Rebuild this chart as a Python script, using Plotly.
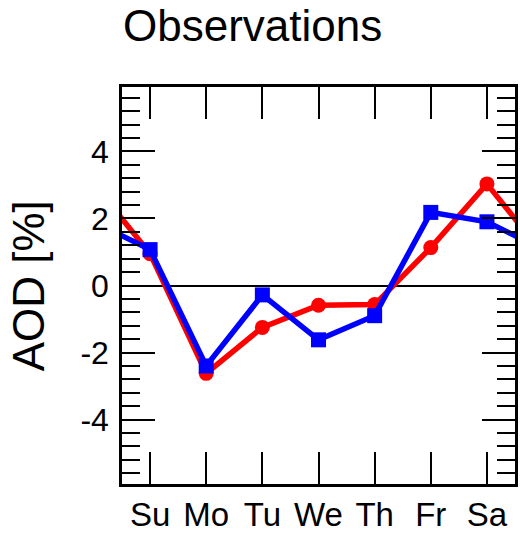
import plotly.graph_objects as go

days = ["Su", "Mo", "Tu", "We", "Th", "Fr", "Sa"]
obs_red = [0.95, -2.62, -1.25, -0.59, -0.57, 1.13, 3.03]
obs_blue = [1.07, -2.40, -0.28, -1.62, -0.90, 2.18, 1.90]
y_ticks = [-4, -2, 0, 2, 4]
y_tick_text = ["-4", "-2", "0", "2", "4"]

idx = list(range(len(days)))
# cyclic week: wrap Sa before Su and Su after Sa (clipped by axes)
x_ext = [-1] + idx + [len(days)]

def wrap(v):
    return [v[-1]] + list(v) + [v[0]]

FONT = "Liberation Sans, Arial, Helvetica, sans-serif"

fig = go.Figure()
fig.add_trace(go.Scatter(
    x=x_ext, y=wrap(obs_red), mode="lines+markers",
    line=dict(color="#ff0000", width=5.5),
    marker=dict(symbol="circle", size=15, color="#ff0000"),
    showlegend=False))
fig.add_trace(go.Scatter(
    x=x_ext, y=wrap(obs_blue), mode="lines+markers",
    line=dict(color="#0000ff", width=5.5),
    marker=dict(symbol="square", size=15, color="#0000ff"),
    showlegend=False))

fig.update_layout(
    width=520, height=536,
    margin=dict(l=122, r=2, t=87, b=52),
    paper_bgcolor="white", plot_bgcolor="white",
    font=dict(family=FONT, color="black"),
    xaxis=dict(
        range=[-0.5, 6.5], tickvals=idx, ticktext=days,
        ticks="inside", ticklen=32, tickwidth=2, tickcolor="black",
        showline=True, linewidth=2.5, linecolor="black", mirror="ticks",
        showgrid=False, zeroline=False,
        tickfont=dict(size=33, family=FONT), ticklabelstandoff=0,
    ),
    yaxis=dict(
        range=[-5.92, 5.92], tickvals=y_ticks, ticktext=y_tick_text,
        ticks="inside", ticklen=33, tickwidth=2, tickcolor="black",
        minor=dict(ticks="inside", ticklen=18, tickwidth=2, tickcolor="black",
                   dtick=0.4, tick0=0, showgrid=False),
        showline=True, linewidth=2.5, linecolor="black", mirror="ticks",
        showgrid=False, zeroline=True, zerolinecolor="black", zerolinewidth=1.5,
        tickfont=dict(size=32, family=FONT), ticklabelstandoff=4,
    ),
    annotations=[
        dict(text="Observations", xref="paper", yref="paper",
             x=0.0, y=484 / 397, xanchor="left", yanchor="top",
             borderpad=0, showarrow=False, font=dict(size=44, family=FONT)),
        dict(text="AOD [%]", xref="paper", yref="paper",
             x=-0.237, y=0.5, xanchor="center", yanchor="middle",
             textangle=-90, showarrow=False, font=dict(size=44, family=FONT)),
    ],
)

fig.write_html(
    "out.html",
    config={"displayModeBar": False},
    post_script="document.body.style.margin='0';document.body.style.overflow='hidden';",
)
